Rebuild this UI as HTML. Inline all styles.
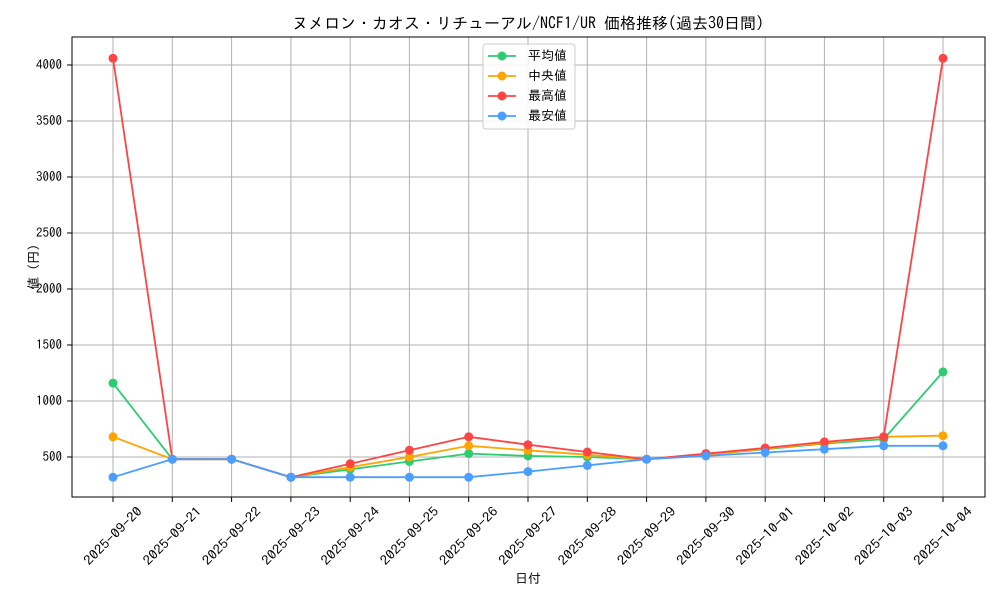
<!DOCTYPE html><html><head><meta charset="utf-8"><style>body{margin:0;background:#fff}text{font-family:"IPAGothic","Noto Sans CJK JP",monospace;font-size:13px;fill:#000}</style></head><body>
<svg width="1000" height="600" xmlns="http://www.w3.org/2000/svg">
<rect width="1000" height="600" fill="#fff"/>
<text x="528" y="29" text-anchor="middle" style="font-size:16px">ヌメロン・カオス・リチューアル/NCF1/UR 価格推移(過去30日間)</text>
<g stroke="#b0b0b0" stroke-width="1">
<line x1="113" y1="37" x2="113" y2="497"/><line x1="172.3" y1="37" x2="172.3" y2="497"/><line x1="231.6" y1="37" x2="231.6" y2="497"/><line x1="290.9" y1="37" x2="290.9" y2="497"/><line x1="350.2" y1="37" x2="350.2" y2="497"/><line x1="409.4" y1="37" x2="409.4" y2="497"/><line x1="468.7" y1="37" x2="468.7" y2="497"/><line x1="528" y1="37" x2="528" y2="497"/><line x1="587.3" y1="37" x2="587.3" y2="497"/><line x1="646.6" y1="37" x2="646.6" y2="497"/><line x1="705.9" y1="37" x2="705.9" y2="497"/><line x1="765.2" y1="37" x2="765.2" y2="497"/><line x1="824.4" y1="37" x2="824.4" y2="497"/><line x1="883.7" y1="37" x2="883.7" y2="497"/><line x1="943" y1="37" x2="943" y2="497"/>
<line x1="72" y1="457" x2="985" y2="457"/><line x1="72" y1="401" x2="985" y2="401"/><line x1="72" y1="345" x2="985" y2="345"/><line x1="72" y1="289" x2="985" y2="289"/><line x1="72" y1="233" x2="985" y2="233"/><line x1="72" y1="177" x2="985" y2="177"/><line x1="72" y1="121" x2="985" y2="121"/><line x1="72" y1="65" x2="985" y2="65"/>
</g>
<rect x="72" y="37" width="913" height="460" fill="none" stroke="#000" stroke-width="1"/>
<g stroke="#000"><line x1="67" y1="457" x2="72" y2="457"/><line x1="67" y1="401" x2="72" y2="401"/><line x1="67" y1="345" x2="72" y2="345"/><line x1="67" y1="289" x2="72" y2="289"/><line x1="67" y1="233" x2="72" y2="233"/><line x1="67" y1="177" x2="72" y2="177"/><line x1="67" y1="121" x2="72" y2="121"/><line x1="67" y1="65" x2="72" y2="65"/></g>
<g text-anchor="end"><text x="62" y="461">500</text><text x="62" y="405">1000</text><text x="62" y="349">1500</text><text x="62" y="293">2000</text><text x="62" y="237">2500</text><text x="62" y="181">3000</text><text x="62" y="125">3500</text><text x="62" y="69">4000</text></g>
<text transform="translate(38,267) rotate(-90)" text-anchor="middle">値 (円)</text>
<text x="528" y="583" text-anchor="middle">日付</text>
<g text-anchor="middle" dominant-baseline="central">
<text transform="translate(113,536) rotate(-45)" textLength="76" lengthAdjust="spacingAndGlyphs">2025-09-20</text><text transform="translate(172.3,536) rotate(-45)" textLength="76" lengthAdjust="spacingAndGlyphs">2025-09-21</text><text transform="translate(231.6,536) rotate(-45)" textLength="76" lengthAdjust="spacingAndGlyphs">2025-09-22</text><text transform="translate(290.9,536) rotate(-45)" textLength="76" lengthAdjust="spacingAndGlyphs">2025-09-23</text><text transform="translate(350.2,536) rotate(-45)" textLength="76" lengthAdjust="spacingAndGlyphs">2025-09-24</text><text transform="translate(409.4,536) rotate(-45)" textLength="76" lengthAdjust="spacingAndGlyphs">2025-09-25</text><text transform="translate(468.7,536) rotate(-45)" textLength="76" lengthAdjust="spacingAndGlyphs">2025-09-26</text><text transform="translate(528,536) rotate(-45)" textLength="76" lengthAdjust="spacingAndGlyphs">2025-09-27</text><text transform="translate(587.3,536) rotate(-45)" textLength="76" lengthAdjust="spacingAndGlyphs">2025-09-28</text><text transform="translate(646.6,536) rotate(-45)" textLength="76" lengthAdjust="spacingAndGlyphs">2025-09-29</text><text transform="translate(705.9,536) rotate(-45)" textLength="76" lengthAdjust="spacingAndGlyphs">2025-09-30</text><text transform="translate(765.2,536) rotate(-45)" textLength="76" lengthAdjust="spacingAndGlyphs">2025-10-01</text><text transform="translate(824.4,536) rotate(-45)" textLength="76" lengthAdjust="spacingAndGlyphs">2025-10-02</text><text transform="translate(883.7,536) rotate(-45)" textLength="76" lengthAdjust="spacingAndGlyphs">2025-10-03</text><text transform="translate(943,536) rotate(-45)" textLength="76" lengthAdjust="spacingAndGlyphs">2025-10-04</text>
</g>
<g stroke="#000"><line x1="113" y1="497" x2="113" y2="502"/><line x1="172.3" y1="497" x2="172.3" y2="502"/><line x1="231.6" y1="497" x2="231.6" y2="502"/><line x1="290.9" y1="497" x2="290.9" y2="502"/><line x1="350.2" y1="497" x2="350.2" y2="502"/><line x1="409.4" y1="497" x2="409.4" y2="502"/><line x1="468.7" y1="497" x2="468.7" y2="502"/><line x1="528" y1="497" x2="528" y2="502"/><line x1="587.3" y1="497" x2="587.3" y2="502"/><line x1="646.6" y1="497" x2="646.6" y2="502"/><line x1="705.9" y1="497" x2="705.9" y2="502"/><line x1="765.2" y1="497" x2="765.2" y2="502"/><line x1="824.4" y1="497" x2="824.4" y2="502"/><line x1="883.7" y1="497" x2="883.7" y2="502"/><line x1="943" y1="497" x2="943" y2="502"/></g>
<defs><marker id="mg" markerWidth="10" markerHeight="10" refX="5" refY="5" markerUnits="userSpaceOnUse"><circle cx="5" cy="5" r="4.5" fill="#2ecc71"/></marker>
<marker id="mo" markerWidth="10" markerHeight="10" refX="5" refY="5" markerUnits="userSpaceOnUse"><circle cx="5" cy="5" r="4.5" fill="#ffa500"/></marker>
<marker id="mr" markerWidth="10" markerHeight="10" refX="5" refY="5" markerUnits="userSpaceOnUse"><circle cx="5" cy="5" r="4.5" fill="#ff4444"/></marker>
<marker id="mb" markerWidth="10" markerHeight="10" refX="5" refY="5" markerUnits="userSpaceOnUse"><circle cx="5" cy="5" r="4.5" fill="#4a9eff"/></marker></defs>
<g fill="none" stroke-width="1.8">
<polyline stroke="#2ecc71" marker-start="url(#mg)" marker-mid="url(#mg)" marker-end="url(#mg)" points="113,383.1 172.3,459.2 231.6,459.2 290.9,477.2 350.2,469.3 409.4,461.5 468.7,453.6 528,455.9 587.3,457 646.6,459.2 705.9,454.8 765.2,449.2 824.4,443.6 883.7,439.1 943,371.9"/>
<polyline stroke="#ffa500" marker-start="url(#mo)" marker-mid="url(#mo)" marker-end="url(#mo)" points="113,436.8 172.3,459.2 231.6,459.2 290.9,477.2 350.2,467.1 409.4,457 468.7,445.8 528,450.3 587.3,454.8 646.6,459.2 705.9,454.8 765.2,448.6 824.4,443 883.7,436.8 943,435.7"/>
<polyline stroke="#ff4444" marker-start="url(#mr)" marker-mid="url(#mr)" marker-end="url(#mr)" points="113,58.3 172.3,459.2 231.6,459.2 290.9,477.2 350.2,463.7 409.4,450.3 468.7,436.8 528,444.7 587.3,452 646.6,459.2 705.9,453.6 765.2,448 824.4,441.9 883.7,436.8 943,58.3"/>
<polyline stroke="#4a9eff" marker-start="url(#mb)" marker-mid="url(#mb)" marker-end="url(#mb)" points="113,477.2 172.3,459.2 231.6,459.2 290.9,477.2 350.2,477.2 409.4,477.2 468.7,477.2 528,471.6 587.3,465.4 646.6,459.2 705.9,455.9 765.2,452.5 824.4,449.2 883.7,445.8 943,445.8"/>
</g>
<rect x="483" y="44" width="92" height="85" rx="3" fill="#fff" fill-opacity="0.85" stroke="#ccc"/>
<g stroke-width="1.8">
<line x1="488" y1="56" x2="516" y2="56" stroke="#2ecc71"/><circle cx="502" cy="56" r="4.5" fill="#2ecc71"/>
<line x1="488" y1="76" x2="516" y2="76" stroke="#ffa500"/><circle cx="502" cy="76" r="4.5" fill="#ffa500"/>
<line x1="488" y1="96" x2="516" y2="96" stroke="#ff4444"/><circle cx="502" cy="96" r="4.5" fill="#ff4444"/>
<line x1="488" y1="116" x2="516" y2="116" stroke="#4a9eff"/><circle cx="502" cy="116" r="4.5" fill="#4a9eff"/>
</g>
<text x="528" y="60">平均値</text><text x="528" y="80">中央値</text><text x="528" y="100">最高値</text><text x="528" y="120">最安値</text>
</svg></body></html>
